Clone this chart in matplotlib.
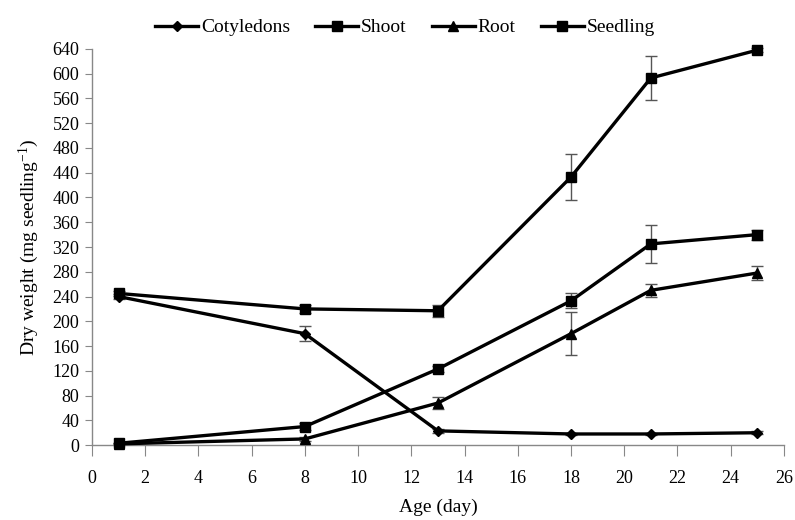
import matplotlib
matplotlib.use("Agg")
import matplotlib.pyplot as plt

days = [1, 8, 13, 18, 21, 25]
cotyledons = [240, 180, 23, 18, 18, 20]
cotyledons_err = [4, 12, 3, 2, 2, 2]
shoot = [3, 30, 123, 233, 325, 340]
shoot_err = [1, 5, 5, 12, 31, 8]
root = [2, 10, 68, 180, 250, 278]
root_err = [1, 3, 10, 35, 10, 12]
seedling = [245, 220, 217, 433, 593, 638]
seedling_err = [4, 7, 10, 37, 36, 3]

plt.rcParams['font.family'] = ['Liberation Serif', 'DejaVu Serif']
plt.rcParams['mathtext.fontset'] = 'custom'
plt.rcParams['mathtext.rm'] = 'Liberation Serif'
plt.rcParams['mathtext.it'] = 'Liberation Serif:italic'

fig = plt.figure(figsize=(7.95, 5.2), dpi=100)
ax = fig.add_axes([0.1157, 0.144, 0.8703, 0.762])

series = [
    ("Cotyledons", cotyledons, cotyledons_err, 'D', 5.5),
    ("Shoot", shoot, shoot_err, 's', 7.5),
    ("Root", root, root_err, '^', 7.5),
    ("Seedling", seedling, seedling_err, 's', 7.5),
]
for name, vals, err, mk, ms in series:
    ax.errorbar(days, vals, yerr=err, fmt='none', ecolor='#555555', elinewidth=1.0,
                capsize=4, capthick=1.0, zorder=2, clip_on=False)
    ax.plot(days, vals, color='black', lw=2.4, marker=mk, markersize=ms,
            label=name, zorder=3, clip_on=False)

ax.set_xlim(0, 26)
ax.set_ylim(0, 640)
ax.set_xticks(range(0, 27, 2))
ax.set_yticks(range(0, 641, 40))
for s in ['top', 'right']:
    ax.spines[s].set_visible(False)
for s in ['left', 'bottom']:
    ax.spines[s].set_color('#888888')
    ax.spines[s].set_linewidth(1.0)
ax.tick_params(axis='x', direction='out', length=8, color='#888888', labelsize=13, pad=10)
ax.tick_params(axis='y', direction='out', length=5, color='#888888', labelsize=13, pad=4)

ax.set_xlabel("Age (day)", fontsize=14, labelpad=8)
ax.set_ylabel("Dry weight (mg seedling$^{\\mathrm{-1}}$)", fontsize=14, labelpad=8)

fig.legend(*ax.get_legend_handles_labels(), loc='lower center',
           bbox_to_anchor=(405 / 795, 0.915), ncol=4, frameon=False,
           fontsize=14, handlelength=2.2, columnspacing=1.3, handletextpad=0.15,
           borderaxespad=0.0)

fig.savefig("out.png", dpi=100)
